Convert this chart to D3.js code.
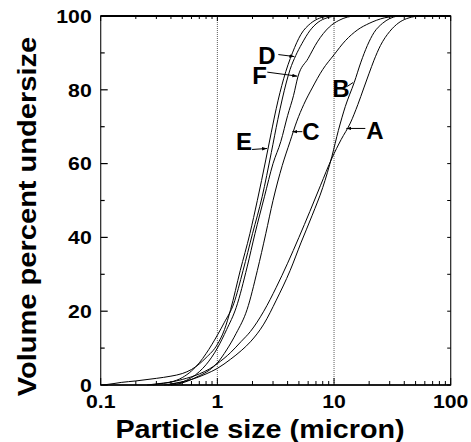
<!DOCTYPE html>
<html>
<head>
<meta charset="utf-8">
<script src="https://cdn.jsdelivr.net/npm/d3@7"></script>
<style>
  body { margin: 0; background: #fff; }
  text { font-family: "Liberation Sans", Arial, Helvetica, sans-serif; font-weight: bold; fill: #000; }
</style>
</head>
<body>
<svg id="chart" width="471" height="442"></svg>
<script>
// particle size (micron) vs cumulative volume percent
var curveA = [[0.25,0],[0.3,0.3],[0.4,0.8],[0.5,1.5],[0.7,3],[0.85,4.3],[1,5.8],[1.3,8.8],[1.6,11.8],[1.92,14.5],[2.5,20],[3.2,26.5],[4,33],[5,40],[6.2,47],[7.64,54],[9.6,61.5],[11.5,66.5],[13.8,71],[16,76],[18,80.5],[20,84.5],[22,88],[25,92],[30,95.8],[36,98.2],[42,99.3],[50,99.9],[55,100]];
var curveB = [[0.35,0],[0.4,0.3],[0.6,1.5],[0.8,3],[1,4.5],[1.3,7],[1.6,9.3],[1.92,11.7],[2.5,16.5],[3.2,23],[4.2,31],[5.2,38.5],[6.5,46],[8,53.5],[9.6,62],[10.9,69],[12.5,75.5],[14.9,82],[17,87.5],[19.3,92],[22,95.5],[26,98],[30,99.3],[35,100]];
var curveC = [[0.4,0],[0.45,0.2],[0.55,1],[0.7,2.5],[0.85,4],[1,6],[1.2,9.5],[1.45,14],[1.8,20.5],[2.2,31],[2.6,41],[3,50],[3.6,59.5],[4.2,66],[4.8,71.5],[5.5,76],[6.5,80.5],[8,85.5],[10,89.5],[12.5,93.3],[16,96.3],[20,98],[27,99.5],[35,100]];
var curveD = [[0.28,0],[0.3,0.2],[0.4,0.8],[0.5,2],[0.6,3.8],[0.7,6],[0.8,8.5],[1,13.5],[1.15,17],[1.38,22],[1.66,31],[2,41],[2.42,51],[2.9,63],[3.3,72],[3.6,77.5],[4.2,85.5],[4.7,89.3],[5.3,92.5],[6.2,96],[7.3,98.3],[8.7,99.5],[10.5,100]];
var curveE = [[0.105,0],[0.13,0.4],[0.15,0.7],[0.2,1.1],[0.3,1.8],[0.4,2.4],[0.5,3.1],[0.6,4.2],[0.7,5.7],[0.8,7.4],[1,11],[1.15,15],[1.3,20.5],[1.57,31],[1.9,41],[2.2,50],[2.6,61],[2.9,68.5],[3.2,75],[3.7,83],[4.4,90],[5.2,95],[6.3,98],[7.5,99.4],[9,100]];
var curveF = [[0.38,0],[0.4,0.2],[0.5,0.8],[0.6,2],[0.7,3.6],[0.8,5.5],[1,10],[1.2,15],[1.45,21],[1.8,32],[2.1,41],[2.53,51],[3,60],[3.5,66],[4,73],[4.5,78.5],[4.9,83.5],[6,88.5],[7.2,93],[9.1,97],[11,98.8],[13,99.7],[15,100]];
var seriesNames = ["A", "B", "C", "D", "E", "F"];
var seriesData = [curveA, curveB, curveC, curveD, curveE, curveF];

// particle size (micron) where each label's arrow touches its curve
var labelTips = [13.0, 14.9, 4.48, 4.66, 2.72, 4.94];

var yTicks = [0, 20, 40, 60, 80, 100];
var xTicks = [0.1, 1, 10, 100];
var xTickLabels = ["0.1", "1", "10", "100"];
var guideLines = [1, 10];

var svg = d3.select("#chart");

var x = d3.scaleLog().domain([0.1, 100]).range([100.7, 450.7]);
var y = d3.scaleLinear().domain([0, 100]).range([385, 16]);

// value of a curve at size d (linear in log size between read points)
function valueAt(curve, d) {
  var lx = curve.map(p => Math.log10(p[0]));
  var i = d3.bisectLeft(lx, Math.log10(d));
  if (i <= 0) return curve[0][1];
  if (i >= curve.length) return curve[curve.length - 1][1];
  var t = (Math.log10(d) - lx[i - 1]) / (lx[i] - lx[i - 1]);
  return curve[i - 1][1] + t * (curve[i][1] - curve[i - 1][1]);
}

// dotted guides at 1 and 10 micron
svg.selectAll(".guide")
   .data(guideLines)
   .enter().append("line")
   .attr("x1", d => x(d)).attr("x2", d => x(d))
   .attr("y1", y(0)).attr("y2", y(100))
   .attr("stroke", "#333")
   .attr("stroke-width", 0.8)
   .attr("stroke-dasharray", "1,1");

// curves
var line = d3.line()
   .x(d => x(d[0]))
   .y(d => y(d[1]))
   .curve(d3.curveMonotoneX);

svg.selectAll(".curve")
   .data(seriesData)
   .enter().append("path")
   .attr("d", line)
   .attr("fill", "none")
   .attr("stroke", "#000")
   .attr("stroke-width", 1);

// frame
svg.append("rect")
   .attr("x", x(0.1)).attr("y", y(100))
   .attr("width", x(100) - x(0.1)).attr("height", y(0) - y(100))
   .attr("fill", "none")
   .attr("stroke", "#222")
   .attr("stroke-width", 1.2);
svg.append("line")
   .attr("x1", x(0.1)).attr("x2", x(100))
   .attr("y1", y(100)).attr("y2", y(100))
   .attr("stroke", "#000").attr("stroke-width", 2);
svg.append("line")
   .attr("x1", x(0.1)).attr("x2", x(100))
   .attr("y1", y(0)).attr("y2", y(0))
   .attr("stroke", "#000").attr("stroke-width", 1.6);

// ticks, all pointing inward
var yAll = d3.range(0, 101, 10);
svg.selectAll(".ytl")
   .data(yAll)
   .enter().append("line")
   .attr("x1", x(0.1)).attr("x2", d => x(0.1) + (d % 20 === 0 ? 7 : 4))
   .attr("y1", d => y(d)).attr("y2", d => y(d))
   .attr("stroke", "#000").attr("stroke-width", 1.2);
svg.selectAll(".ytr")
   .data(yAll)
   .enter().append("line")
   .attr("x1", x(100)).attr("x2", x(100) - 3.5)
   .attr("y1", d => y(d)).attr("y2", d => y(d))
   .attr("stroke", "#000").attr("stroke-width", 1);

var xAll = [];
[0.1, 1, 10].forEach(function(dec) {
  for (var k = 1; k < 10; k++) xAll.push(dec * k);
});
xAll.push(100);
svg.selectAll(".xtb")
   .data(xAll)
   .enter().append("line")
   .attr("x1", d => x(d)).attr("x2", d => x(d))
   .attr("y1", y(0)).attr("y2", d => y(0) - (xTicks.indexOf(d) >= 0 ? 7 : 4))
   .attr("stroke", "#000").attr("stroke-width", 1);
svg.selectAll(".xtt")
   .data(xAll)
   .enter().append("line")
   .attr("x1", d => x(d)).attr("x2", d => x(d))
   .attr("y1", y(100)).attr("y2", d => y(100) + (xTicks.indexOf(d) >= 0 ? 5 : 3))
   .attr("stroke", "#000").attr("stroke-width", 1);

// tick labels
svg.selectAll(".ylab")
   .data(yTicks)
   .enter().append("text")
   .attr("transform", d => "translate(91.7," + (y(d) + 6.7) + ") scale(1.14,1)")
   .attr("text-anchor", "end")
   .style("font-size", "18.6px")
   .text(d => d);

svg.selectAll(".xlab")
   .data(xTicks)
   .enter().append("text")
   .attr("transform", d => "translate(" + x(d) + ",408) scale(1.14,1)")
   .attr("text-anchor", "middle")
   .style("font-size", "18.6px")
   .text((d, i) => xTickLabels[i]);

// axis titles
svg.append("text")
   .attr("transform", "translate(260,437.5) scale(1.15,1)")
   .attr("text-anchor", "middle")
   .style("font-size", "25px")
   .text("Particle size (micron)");

svg.append("text")
   .attr("transform", "translate(36,216.5) rotate(-90) scale(1.14,1)")
   .attr("text-anchor", "middle")
   .style("font-size", "25.5px")
   .text("Volume percent undersize");

// curve labels with arrows
svg.append("defs").append("marker")
   .attr("id", "arrow")
   .attr("viewBox", "0 0 10 10")
   .attr("refX", 10).attr("refY", 5)
   .attr("markerWidth", 5).attr("markerHeight", 5)
   .attr("orient", "auto")
   .append("path")
   .attr("d", "M0,1.5 L10,5 L0,8.5 z")
   .attr("fill", "#000");

// label layout: text offset and arrow tail offset from the tip, in px
var labelLayout = {
  A: { tx: 20, ty: 11, ax: 19, ay: 0 },
  B: { tx: -21, ty: 15, ax: -6, ay: 4 },
  C: { tx: 10, ty: 8.5, ax: 10, ay: 0 },
  D: { tx: -36, ty: 7, ax: -16, ay: -2 },
  E: { tx: -31, ty: 1.5, ax: -15, ay: 1 },
  F: { tx: -45, ty: 8, ax: -30, ay: -4 }
};

seriesNames.forEach(function(name, i) {
  var d = labelTips[i];
  var px = x(d) - 1, py = y(valueAt(seriesData[i], d));
  var lay = labelLayout[name];
  svg.append("line")
     .attr("x1", px + lay.ax).attr("y1", py + lay.ay)
     .attr("x2", px).attr("y2", py)
     .attr("stroke", "#000").attr("stroke-width", 1)
     .attr("marker-end", name === "B" ? null : "url(#arrow)");
  svg.append("text")
     .attr("x", px + lay.tx).attr("y", py + lay.ty)
     .style("font-size", "24px")
     .text(name);
});
</script>
</body>
</html>
